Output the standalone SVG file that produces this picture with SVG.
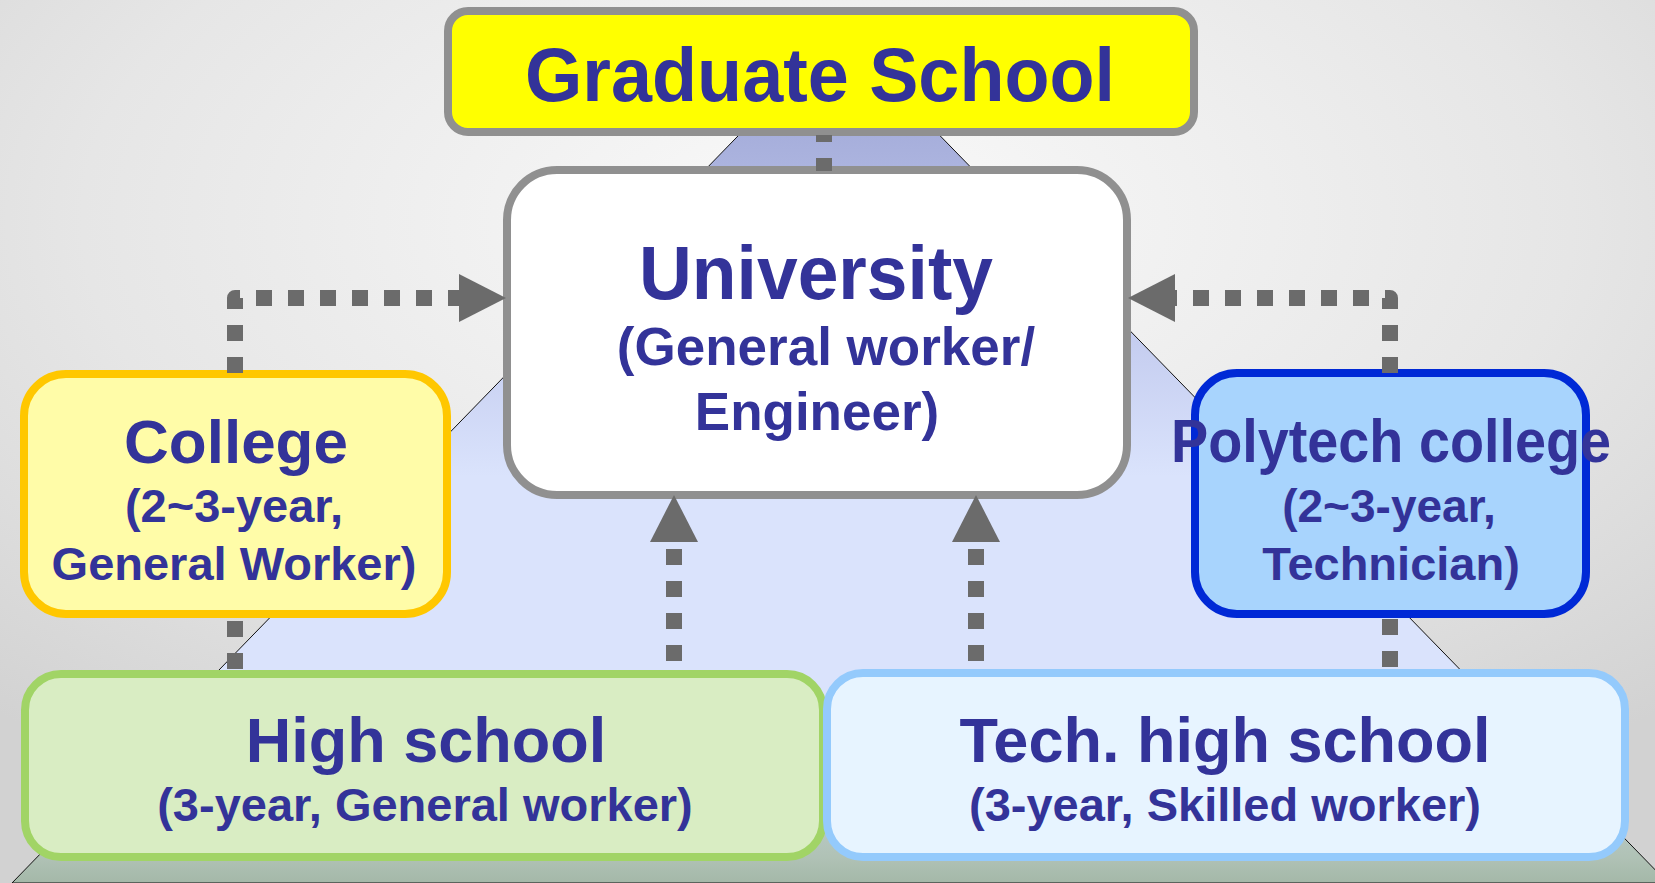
<svg xmlns="http://www.w3.org/2000/svg" width="1655" height="883" viewBox="0 0 1655 883">
  <defs>
    <radialGradient id="bg" cx="50%" cy="25%" r="75%">
      <stop offset="0" stop-color="#fafafa"/>
      <stop offset="0.6" stop-color="#e6e6e6"/>
      <stop offset="1" stop-color="#d2d2d2"/>
    </radialGradient>
    <linearGradient id="pyr" gradientUnits="userSpaceOnUse" x1="0" y1="130" x2="0" y2="883">
      <stop offset="0" stop-color="#a6aedb"/>
      <stop offset="0.27" stop-color="#c4ccef"/>
      <stop offset="0.46" stop-color="#dae3fc"/>
      <stop offset="0.75" stop-color="#dae3fc"/>
      <stop offset="0.965" stop-color="#b0c2b6"/>
      <stop offset="1" stop-color="#a4b8a8"/>
    </linearGradient>
    <marker id="ah" markerUnits="userSpaceOnUse" markerWidth="47" markerHeight="48" viewBox="0 0 47 48" refX="0" refY="24" orient="auto">
      <path d="M0,0 L47,24 L0,48 Z" fill="#6b6b6b"/>
    </marker>
    <style>
      .t { font-family: "Liberation Sans", Arial, sans-serif; font-weight: bold; fill: #333399; text-anchor: middle; }
      .big { font-size: 63px; }
      .mid { font-size: 47px; }
      .dash { fill: none; stroke: #6b6b6b; stroke-width: 16; stroke-dasharray: 16 16; stroke-linejoin: round; }
      .arrow { marker-end: url(#ah); }
      .box { stroke-width: 8; }
    </style>
  </defs>

  <g id="background">
    <rect x="0" y="0" width="1655" height="883" fill="url(#bg)"/>
    <polygon points="839,32 1668,883 12,883" fill="url(#pyr)" stroke="#111" stroke-width="1"/>
  </g>

  <g id="graduate-school">
    <rect class="box" x="448" y="11" width="746" height="121" rx="20" fill="#ffff00" stroke="#909090"/>
    <text class="t" x="820" y="101" font-size="76" textLength="590" lengthAdjust="spacingAndGlyphs">Graduate School</text>
  </g>

  <g id="university">
    <rect class="box" x="507" y="170" width="620" height="325" rx="50" fill="#ffffff" stroke="#909090"/>
    <text class="t" x="816" y="299" font-size="76" textLength="354" lengthAdjust="spacingAndGlyphs">University</text>
    <text class="t" x="826" y="365" font-size="53">(General worker/</text>
    <text class="t" x="817" y="430" font-size="53">Engineer)</text>
  </g>

  <g id="college">
    <rect class="box" x="24" y="374" width="423" height="240" rx="42" fill="#fffca8" stroke="#ffc700"/>
    <text class="t" x="236" y="463" font-size="62">College</text>
    <text class="t mid" x="234" y="522" font-size="46">(2~3-year,</text>
    <text class="t mid" x="234" y="580">General Worker)</text>
  </g>

  <g id="polytech-college">
    <rect class="box" x="1195" y="373" width="391" height="241" rx="42" fill="#a8d4fd" stroke="#0029d6"/>
    <text class="t" x="1391" y="462" font-size="62" textLength="440" lengthAdjust="spacingAndGlyphs">Polytech college</text>
    <text class="t" x="1389" y="522" font-size="46">(2~3-year,</text>
    <text class="t mid" x="1391" y="580">Technician)</text>
  </g>

  <g id="high-school">
    <rect class="box" x="25" y="674" width="798" height="183" rx="36" fill="#d9edc3" stroke="#a1d466"/>
    <text class="t big" x="426" y="762">High school</text>
    <text class="t mid" x="425" y="821">(3-year, General worker)</text>
  </g>

  <g id="tech-high-school">
    <rect class="box" x="827" y="673" width="798" height="184" rx="36" fill="#e7f4ff" stroke="#94cafc"/>
    <text class="t big" x="1225" y="762">Tech. high school</text>
    <text class="t mid" x="1225" y="821">(3-year, Skilled worker)</text>
  </g>

  <g id="connectors">
    <path class="dash" d="M824 171 L824 135" style="stroke-dasharray: 13 16 16 16"/>
    <path class="dash arrow" d="M235 373 L235 298 L459 298"/>
    <path class="dash arrow" d="M1390 373 L1390 298 L1175 298"/>
    <path class="dash arrow" d="M674 661 L674 542"/>
    <path class="dash arrow" d="M976 661 L976 542"/>
    <path class="dash" d="M235 669 L235 618"/>
    <path class="dash" d="M1390 667 L1390 618"/>
  </g>
</svg>
